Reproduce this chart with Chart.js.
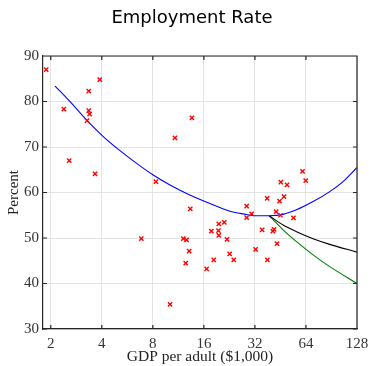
<!DOCTYPE html>
<html>
<head>
<meta charset="utf-8">
<script src="https://cdn.jsdelivr.net/npm/chart.js@4/dist/chart.umd.min.js"></script>
<style>
  html, body { margin: 0; padding: 0; background: #fff; }
  #wrap { width: 370px; height: 366px; }
</style>
</head>
<body>
<div id="wrap"><canvas id="c" width="370" height="366"></canvas></div>
<script>
// scatter: GDP per adult ($1,000) vs employment rate (%)
var gdp = [1.88, 3.89, 3.35, 2.39, 3.35, 3.39, 3.27, 2.57, 3.65, 13.6,
  10.8, 8.34, 13.3, 6.84, 12.1, 12.65, 13.1, 12.5, 16.6, 10.1,
  37.8, 28.6, 30.6, 28.6, 42.7, 21.1, 19.6, 19.5, 17.7, 19.6,
  21.9, 35.3, 41.5, 40.8, 32.3, 22.7, 24.0, 18.3, 37.9, 61.1,
  63.8, 45.5, 49.5, 47.5, 44.7, 45.3, 54.0, 43.2];
var rate = [87.0, 84.8, 82.3, 78.3, 78.0, 77.25, 75.8, 67.0, 64.1, 76.4,
  72.0, 62.4, 56.4, 49.85, 49.85, 49.6, 47.1, 44.5, 43.2, 35.4,
  58.7, 57.0, 55.3, 54.5, 55.8, 53.45, 53.1, 51.6, 51.5, 50.6,
  49.7, 51.8, 51.9, 51.5, 47.5, 46.5, 45.2, 45.2, 45.2, 64.65,
  62.6, 62.3, 61.7, 59.1, 58.1, 55.0, 54.4, 48.75];

// fitted curve (blue)
var fitX = [2.12, 2.60, 3.26, 4.08, 5.12, 6.42, 8.04, 10.1, 12.65, 17.35,
  22.8, 27.3, 32.7, 38.8, 46.9, 56.3, 70.5, 88.4, 105.9, 128];
var fitY = [83.4, 79.96, 75.9, 72.3, 69.2, 66.4, 63.85, 61.65, 59.8, 57.6,
  55.9, 55.3, 54.9, 54.9, 55.2, 56.2, 58.0, 60.2, 62.4, 65.5];

// projections from the current point
var projX = [38.8, 46.9, 56.3, 70.5, 88.4, 128];
var blackY = [54.9, 52.85, 51.4, 49.85, 48.6, 46.9];
var greenY = [54.9, 51.8, 49.2, 46.3, 43.7, 40.0];

var xTicks = [2, 4, 8, 16, 32, 64, 128];
var yTicks = [30, 40, 50, 60, 70, 80, 90];

function pts(xs, ys) {
  return xs.map(function (x, i) { return { x: x, y: ys[i] }; });
}

var serif = '"Liberation Serif", "DejaVu Serif", serif';
var axisColor = '#262626';

// title, inward tick marks and the top/right frame
var frame = {
  id: 'frame',
  afterDraw: function (chart) {
    var ctx = chart.ctx, a = chart.chartArea;
    var xs = chart.scales.x, ys = chart.scales.y;
    ctx.save();
    ctx.fillStyle = '#000';
    ctx.font = '18px "DejaVu Sans", sans-serif';
    ctx.textAlign = 'center';
    ctx.textBaseline = 'middle';
    ctx.fillText('Employment Rate', 192, 18);

    ctx.strokeStyle = axisColor;
    ctx.lineWidth = 1.2;
    ctx.beginPath();
    ctx.moveTo(a.left, a.top); ctx.lineTo(a.right, a.top); ctx.lineTo(a.right, a.bottom);
    xTicks.forEach(function (v) {
      var px = xs.getPixelForValue(v);
      ctx.moveTo(px, a.bottom); ctx.lineTo(px, a.bottom - 4);
      ctx.moveTo(px, a.top); ctx.lineTo(px, a.top + 4);
    });
    yTicks.forEach(function (v) {
      var py = ys.getPixelForValue(v);
      ctx.moveTo(a.left, py); ctx.lineTo(a.left + 4, py);
      ctx.moveTo(a.right, py); ctx.lineTo(a.right - 4, py);
    });
    ctx.stroke();
    ctx.restore();
  }
};

new Chart(document.getElementById('c'), {
  type: 'scatter',
  data: {
    datasets: [
      {
        data: pts(gdp, rate),
        pointStyle: 'crossRot',
        radius: 3,
        borderColor: '#ff0000',
        backgroundColor: '#ff0000',
        borderWidth: 1.4
      },
      {
        type: 'line',
        data: pts(fitX, fitY),
        borderColor: '#0000ff',
        borderWidth: 1.1,
        pointRadius: 0,
        cubicInterpolationMode: 'monotone',
        fill: false
      },
      {
        type: 'line',
        data: pts(projX, blackY),
        borderColor: '#000000',
        borderWidth: 1.1,
        pointRadius: 0,
        cubicInterpolationMode: 'monotone',
        fill: false
      },
      {
        type: 'line',
        data: pts(projX, greenY),
        borderColor: '#007f00',
        borderWidth: 1.1,
        pointRadius: 0,
        cubicInterpolationMode: 'monotone',
        fill: false
      }
    ]
  },
  options: {
    responsive: false,
    animation: false,
    layout: { padding: { left: 0, right: 13, top: 56, bottom: 0 } },
    plugins: {
      legend: { display: false },
      tooltip: { enabled: false },
      title: { display: false }
    },
    scales: {
      x: {
        type: 'logarithmic',
        min: 1.8,
        max: 128,
        afterBuildTicks: function (s) {
          s.ticks = xTicks.map(function (v) { return { value: v }; });
        },
        afterFit: function (s) {
          s.height = 37;
          s.paddingLeft = 0;
          s.paddingRight = 0;
        },
        ticks: {
          color: '#333',
          font: { family: serif, size: 15 },
          padding: 6,
          maxRotation: 0,
          autoSkip: false,
          callback: function (v) { return String(v); }
        },
        grid: { color: '#e3e3e3', lineWidth: 1, drawTicks: false },
        border: { color: axisColor, width: 1.2 },
        title: {
          display: true,
          text: 'GDP per adult ($1,000)',
          color: '#222',
          font: { family: serif, size: 15.5 },
          padding: { top: 0, bottom: 0 }
        }
      },
      y: {
        min: 30,
        max: 90,
        afterBuildTicks: function (s) {
          s.ticks = yTicks.map(function (v) { return { value: v }; });
        },
        afterFit: function (s) {
          s.width = 43;
          s.paddingTop = 0;
          s.paddingBottom = 0;
        },
        ticks: {
          color: '#333',
          font: { family: serif, size: 15 },
          padding: 4
        },
        grid: { color: '#e3e3e3', lineWidth: 1, drawTicks: false },
        border: { color: axisColor, width: 1.2 },
        title: {
          display: true,
          text: 'Percent',
          color: '#222',
          font: { family: serif, size: 15 },
          padding: { top: 5, bottom: 0 }
        }
      }
    }
  },
  plugins: [frame]
});
</script>
</body>
</html>
